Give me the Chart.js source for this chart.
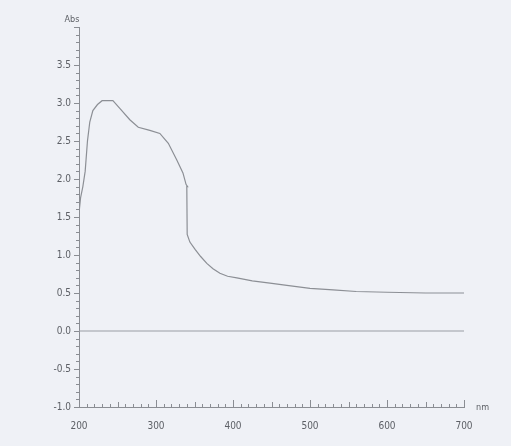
<!DOCTYPE html>
<html>
<head>
<meta charset="utf-8">
<script src="https://cdn.jsdelivr.net/npm/chart.js@4/dist/chart.umd.min.js"></script>
<style>
  html, body { margin: 0; padding: 0; background: #eff1f6; }
  #wrap { position: relative; width: 511px; height: 446px; }
</style>
</head>
<body>
<div id="wrap"><canvas id="spec" width="511" height="446"></canvas></div>
<script>
// absorbance spectrum
const wavelength = [200, 202, 205, 208, 211, 214, 218, 224, 230, 244, 253, 266, 277, 292, 305, 316, 327, 335, 339, 341, 340, 340.5, 344, 351, 358, 366, 374, 383, 393, 405, 425, 448, 470, 500, 530, 560, 600, 650, 700];
const absorbance = [1.55, 1.75, 1.9, 2.1, 2.5, 2.75, 2.9, 2.98, 3.03, 3.03, 2.93, 2.78, 2.68, 2.64, 2.6, 2.47, 2.25, 2.08, 1.93, 1.9, 1.9, 1.27, 1.17, 1.07, 0.98, 0.89, 0.82, 0.76, 0.72, 0.70, 0.66, 0.63, 0.6, 0.56, 0.54, 0.52, 0.51, 0.5, 0.5];
const baselineX = [200, 700];
const baselineY = [0, 0];
const xTicks = [200, 300, 400, 500, 600, 700];
const yTicks = [-1.0, -0.5, 0.0, 0.5, 1.0, 1.5, 2.0, 2.5, 3.0, 3.5];

const axisColor = "#8a8d93";
const textColor = "#5d6066";
const fontFamily = "'Liberation Sans Narrow', 'DejaVu Sans Condensed', sans-serif";

// hand-drawn style tick marks (major + minor) and axis captions
const ticksPlugin = {
  id: "specTicks",
  afterDraw(chart) {
    const c = chart.ctx;
    const xs = chart.scales.x;
    const ys = chart.scales.y;
    const area = chart.chartArea;
    c.save();
    c.strokeStyle = axisColor;
    c.lineWidth = 1;
    c.beginPath();
    for (let v = 200; v <= 700; v += 10) {
      const px = Math.round(xs.getPixelForValue(v)) + 0.5;
      const len = v % 100 === 0 ? 7 : (v % 50 === 0 ? 5 : 3);
      c.moveTo(px, area.bottom);
      c.lineTo(px, area.bottom - len);
    }
    for (let i = -10; i <= 40; i++) {
      const v = i / 10;
      const py = Math.round(ys.getPixelForValue(v)) + 0.5;
      const len = i % 5 === 0 ? 5 : 3;
      c.moveTo(area.left, py);
      c.lineTo(area.left - len, py);
    }
    c.stroke();
    c.fillStyle = textColor;
    c.font = "9px " + fontFamily;
    c.textAlign = "center";
    c.fillText("Abs", area.left - 7, area.top - 5);
    c.textAlign = "left";
    c.fillText("nm", area.right + 12, area.bottom + 3);
    c.restore();
  }
};

new Chart(document.getElementById("spec"), {
  type: "scatter",
  data: {
    datasets: [
      {
        data: wavelength.map((x, i) => ({ x, y: absorbance[i] })),
        showLine: true,
        borderColor: "#8c8f95",
        borderWidth: 1.2,
        pointRadius: 0,
        tension: 0,
      },
      {
        data: baselineX.map((x, i) => ({ x, y: baselineY[i] })),
        showLine: true,
        borderColor: "#9a9da3",
        borderWidth: 1.2,
        pointRadius: 0,
      },
    ],
  },
  options: {
    responsive: false,
    animation: false,
    layout: { padding: { top: 27, right: 47, left: 0, bottom: 0 } },
    plugins: { legend: { display: false }, tooltip: { enabled: false } },
    scales: {
      x: {
        type: "linear",
        min: 200,
        max: 700,
        afterFit: (s) => { s.height = 39; },
        afterBuildTicks: (s) => { s.ticks = xTicks.map((v) => ({ value: v })); },
        grid: { display: false, drawTicks: false },
        border: { color: axisColor, width: 1 },
        ticks: {
          color: textColor,
          font: { family: fontFamily, size: 10 },
          padding: 13,
          maxRotation: 0,
          callback: (v) => String(v),
        },
      },
      y: {
        min: -1,
        max: 4,
        afterFit: (s) => { s.width = 79; },
        afterBuildTicks: (s) => { s.ticks = yTicks.map((v) => ({ value: v })); },
        grid: { display: false, drawTicks: false },
        border: { color: axisColor, width: 1 },
        ticks: {
          color: textColor,
          font: { family: fontFamily, size: 10 },
          padding: 8,
          callback: (v) => v.toFixed(1),
        },
      },
    },
  },
  plugins: [ticksPlugin],
});
</script>
</body>
</html>
